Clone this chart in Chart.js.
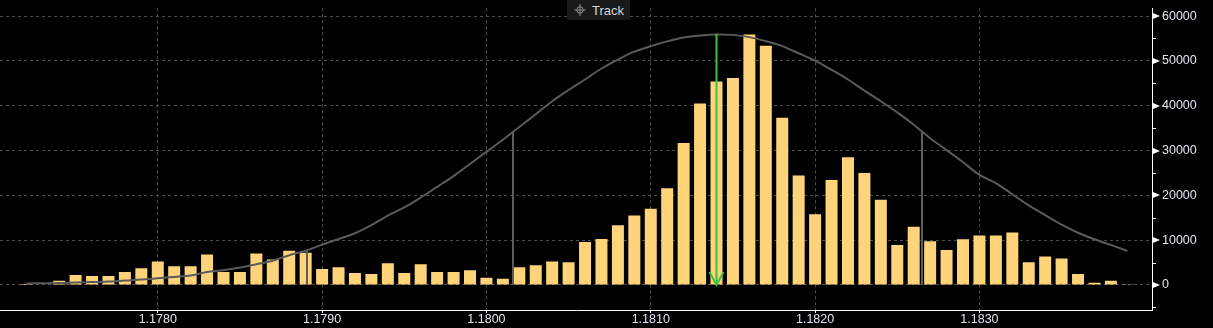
<!DOCTYPE html>
<html>
<head>
<meta charset="utf-8">
<title>Volume at price</title>
<script src="https://cdn.jsdelivr.net/npm/chart.js@4.4.1/dist/chart.umd.min.js"></script>
<style>
  html, body { margin: 0; padding: 0; background: #000; overflow: hidden; }
  #wrap { position: relative; width: 1213px; height: 328px; }
  .track {
    position: absolute; left: 567px; top: 0; width: 63px; height: 20px;
    background: #1a1a1a; color: #d6d6d6;
    font: 13px "Liberation Sans", Arial, sans-serif;
    display: flex; align-items: center; gap: 6px; padding-left: 7px; box-sizing: border-box;
  }
</style>
</head>
<body>
<div id="wrap">
  <canvas id="chart"></canvas>
  <div class="track">
    <svg width="12" height="12" viewBox="0 0 12 12">
      <circle cx="6" cy="6" r="3.2" fill="none" stroke="#8a8a8a" stroke-width="1"/>
      <path d="M6 0v12M0 6h12" stroke="#8a8a8a" stroke-width="1"/>
    </svg>Track
  </div>
</div>
<script>
// price bins (0.0001 wide)
const PRICES = [
  1.1772, 1.1773, 1.1774, 1.1775, 1.1776, 1.1777, 1.1778, 1.1779,
  1.1780, 1.1781, 1.1782, 1.1783, 1.1784, 1.1785, 1.1786, 1.1787, 1.1788, 1.1789,
  1.1790, 1.1791, 1.1792, 1.1793, 1.1794, 1.1795, 1.1796, 1.1797, 1.1798, 1.1799,
  1.1800, 1.1801, 1.1802, 1.1803, 1.1804, 1.1805, 1.1806, 1.1807, 1.1808, 1.1809,
  1.1810, 1.1811, 1.1812, 1.1813, 1.1814, 1.1815, 1.1816, 1.1817, 1.1818, 1.1819,
  1.1820, 1.1821, 1.1822, 1.1823, 1.1824, 1.1825, 1.1826, 1.1827, 1.1828, 1.1829,
  1.1830, 1.1831, 1.1832, 1.1833, 1.1834, 1.1835, 1.1836, 1.1837, 1.1838, 1.1839
];

// traded volume per bin
const VOLUMES = [
  200, 0, 950, 2250, 2000, 2000, 2900, 3750,
  5250, 4200, 4200, 6800, 2900, 2900, 7000, 5700, 7650, 7200,
  3550, 3950, 2650, 2450, 4850, 2650, 4600, 2900, 2900, 3300,
  1600, 1400, 3950, 4400, 5250, 5050, 9600, 10250, 13300, 15500,
  17000, 21600, 31700, 40500, 45400, 46200, 55900, 53400, 37300, 24400,
  15800, 23400, 28500, 25000, 19000, 8900, 13000, 9750, 7800, 10200,
  11050, 11050, 11700, 5050, 6350, 5900, 2450, 500, 950, 150
];

// fitted distribution curve, same bins
const CURVE = [
  350, 400, 430, 560, 650, 780, 1000, 1200,
  1500, 1800, 2100, 2900, 3300, 3900, 4650, 5400, 6650, 7650,
  9000, 10250, 11550, 13350, 15500, 17300, 19500, 21900, 24300, 27000,
  29700, 32400, 35250, 38100, 41000, 43500, 45850, 48300, 50300, 52050,
  53300, 54350, 55200, 55650, 55900, 55800, 55300, 54400, 53300, 51700,
  50050, 48000, 45850, 43350, 41000, 38500, 35750, 32750, 30100, 27400,
  24550, 22750, 20250, 17750, 15600, 13450, 11650, 10200, 8950, 7600
];

const X_TICKS = [1.178, 1.179, 1.180, 1.181, 1.182, 1.183];
const Y_TICKS = [-5000, 0, 5000, 10000, 15000, 20000, 25000, 30000, 35000, 40000, 45000, 50000, 55000, 60000];
const X_MIN = 1.17704, X_MAX = 1.18405;
const Y_MIN = -5580, Y_MAX = 61740;

// mean and sigma markers
const MEAN_PRICE = 1.18140, MEAN_TOP = 56000;
const SIGMA_PRICES = [1.17891, 1.18016, 1.18265];
const SIGMA_TOPS = [7650, 34200, 34200];

const isMajor = v => v >= 0 && v % 10000 === 0;

const overlays = {
  id: 'overlays',
  afterDatasetsDraw(chart) {
    const { ctx, scales: { x, y } } = chart;
    const base = y.getPixelForValue(0);
    ctx.save();
    ctx.lineWidth = 2;
    ctx.strokeStyle = '#5c5c5c';
    SIGMA_PRICES.forEach((p, i) => {
      const px = Math.round(x.getPixelForValue(p));
      ctx.beginPath();
      ctx.moveTo(px, y.getPixelForValue(SIGMA_TOPS[i]));
      ctx.lineTo(px, base);
      ctx.stroke();
    });

    // green arrow at the mean
    const ax = Math.round(x.getPixelForValue(MEAN_PRICE)) - 0.5;
    ctx.strokeStyle = '#3cc23c';
    ctx.beginPath();
    ctx.moveTo(ax, y.getPixelForValue(MEAN_TOP));
    ctx.lineTo(ax, base);
    ctx.moveTo(ax - 7, base - 13);
    ctx.lineTo(ax, base);
    ctx.lineTo(ax + 7, base - 13);
    ctx.stroke();
    ctx.restore();
  },
  afterDraw(chart) {
    const { ctx, scales: { y } } = chart;
    const left = chart.chartArea.right;
    ctx.save();
    ctx.fillStyle = '#ffffff';
    ctx.strokeStyle = '#ffffff';
    ctx.lineWidth = 1;
    Y_TICKS.forEach(v => {
      const py = Math.round(y.getPixelForValue(v));
      if (isMajor(v)) {
        ctx.beginPath();
        ctx.moveTo(left + 1, py - 3);
        ctx.lineTo(left + 8, py);
        ctx.lineTo(left + 1, py + 3);
        ctx.closePath();
        ctx.fill();
      } else {
        ctx.beginPath();
        ctx.moveTo(left, py + 0.5);
        ctx.lineTo(left + 4, py + 0.5);
        ctx.stroke();
      }
    });
    ctx.restore();
  }
};

const tickFont = { family: '"Liberation Sans", Arial, sans-serif', size: 12.5, lineHeight: 1 };

new Chart(document.getElementById('chart'), {
  type: 'bar',
  data: {
    datasets: [
      {
        type: 'line',
        data: PRICES.map((p, i) => ({ x: p, y: CURVE[i] })),
        borderColor: '#5a5a5a',
        borderWidth: 2,
        pointRadius: 0,
        tension: 0.3,
        order: 0
      },
      {
        data: PRICES.map((p, i) => ({ x: p, y: VOLUMES[i] })),
        backgroundColor: '#ffd37a',
        borderWidth: 0,
        categoryPercentage: 1,
        barPercentage: 0.73,
        order: 1
      }
    ]
  },
  options: {
    responsive: true,
    maintainAspectRatio: false,
    animation: false,
    layout: { padding: 0 },
    plugins: { legend: { display: false }, tooltip: { enabled: false } },
    scales: {
      x: {
        type: 'linear',
        min: X_MIN,
        max: X_MAX,
        offset: false,
        afterBuildTicks: s => { s.ticks = X_TICKS.map(v => ({ value: v })); },
        afterFit: s => { s.height = 18; },
        ticks: {
          autoSkip: false, maxRotation: 0, padding: 0,
          color: '#e0e6ee', font: tickFont,
          callback: v => Number(v).toFixed(4)
        },
        grid: { offset: false, color: '#4d4d4d', lineWidth: 1, drawTicks: true, tickLength: 3, tickColor: '#ffffff' },
        border: { display: true, color: '#ffffff', width: 1, dash: [3, 3] }
      },
      y: {
        position: 'right',
        min: Y_MIN,
        max: Y_MAX,
        afterBuildTicks: s => { s.ticks = Y_TICKS.map(v => ({ value: v })); },
        afterFit: s => { s.width = 61; },
        ticks: {
          padding: 2, color: '#e0e6ee', font: tickFont,
          callback: v => isMajor(v) ? String(v) : ''
        },
        grid: {
          color: c => isMajor(c.tick.value) ? '#4d4d4d' : 'transparent',
          lineWidth: 1, drawTicks: true, tickLength: 8, tickColor: 'transparent'
        },
        border: { display: true, color: '#ffffff', width: 1, dash: [3, 3] }
      }
    }
  },
  plugins: [overlays]
});
</script>
</body>
</html>
